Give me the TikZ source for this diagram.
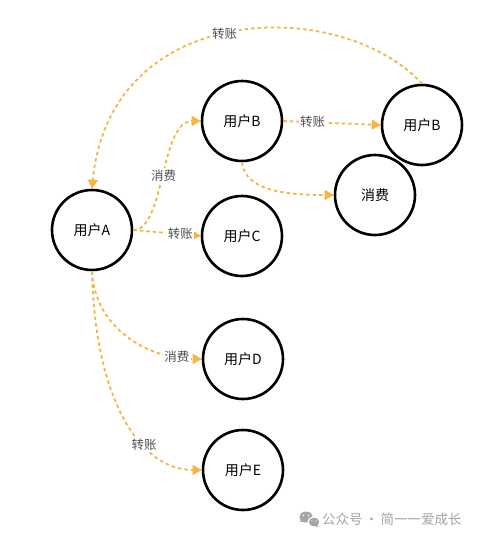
\documentclass[tikz,border=0pt]{standalone}
\usepackage{fontspec}
\setmainfont{Noto Sans CJK SC}
\usetikzlibrary{arrows.meta}
\definecolor{edgeor}{RGB}{245,182,66}
\definecolor{lbl}{RGB}{80,80,80}
\definecolor{wm}{RGB}{165,165,165}
\tikzset{
 user/.style={circle, draw=black, line width=2.6pt, minimum size=80pt, inner sep=0pt, font=\fontsize{14}{16}\selectfont},
 flow/.style={draw=edgeor, line width=1.8pt, dash pattern=on 3.5pt off 3pt, -{Triangle[length=9pt,width=10pt,fill=edgeor]}},
 elabel/.style={fill=white, text=lbl, inner sep=1.5pt, font=\fontsize{12.5}{14}\selectfont}
}
\begin{document}
\begin{tikzpicture}[x=1pt,y=-1pt]
\fill[white] (0,0) rectangle (480,538);
\useasboundingbox (0,0) rectangle (480,538);
\node[user] (A)  at (92,230)  {用户A};
\node[user] (B)  at (242,121) {用户B};
\node[user] (B2) at (422,125) {用户B};
\node[user] (X)  at (375,195) {消费};
\node[user] (C)  at (242,236) {用户C};
\node[user] (D)  at (243,359) {用户D};
\node[user] (E)  at (243,470) {用户E};
\draw[flow] (B2.north) .. controls (340,-5) and (110,0) .. (A.north) node[elabel,pos=0.52] {转账};
\draw[flow] (A.east) .. controls (165,230) and (160,121) .. (B.west) node[elabel,pos=0.5] {消费};
\draw[flow] (A.east) -- (C.west) node[elabel,pos=0.7] {转账};
\draw[flow] (A.south) .. controls (95,330) and (150,359) .. (D.west) node[elabel,pos=0.84] {消费};
\draw[flow] (A.south) .. controls (95,400) and (140,470) .. (E.west) node[elabel,pos=0.65] {转账};
\draw[flow] (B.east) -- (B2.west) node[elabel,pos=0.3] {转账};
\draw[flow] (B.south) .. controls (245,192) and (290,195) .. (X.west);
% watermark
\fill[wm] (306,517) ellipse (6.5 and 5.5);
\fill[wm] (300,522) -- (302,517) -- (305,521) -- cycle;
\fill[white] (314,522) ellipse (6.5 and 5.5);
\fill[wm] (314,522) ellipse (5.2 and 4.4);
\fill[wm] (318,527) -- (317,523) -- (315,526) -- cycle;
\fill[white] (303.5,515.5) circle (0.9) (308.5,515.5) circle (0.9) (312,521) circle (0.7) (316,521) circle (0.7);
\node[text=wm, font=\fontsize{13.5}{15}\selectfont, anchor=west, inner sep=0pt] (wmtext) at (322,519) {公众号\,·\,简一一爱成长};
\end{tikzpicture}
\end{document}
